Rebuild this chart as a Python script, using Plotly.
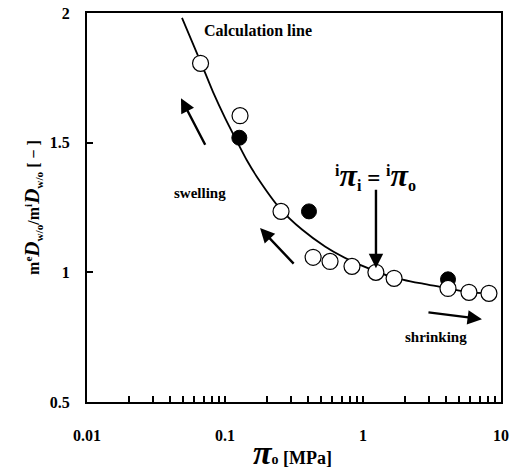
import plotly.graph_objects as go

# Calculation line
calc_x = [0.0488, 0.0670, 0.0818, 0.100, 0.1202, 0.1443, 0.1734, 0.2504, 0.3614,
          0.5304, 0.8051, 1.242, 1.649, 2.588, 4.130, 5.963, 8.322]
calc_y = [1.981, 1.808, 1.696, 1.596, 1.512, 1.431, 1.362, 1.246, 1.165,
          1.100, 1.046, 1.004, 0.981, 0.958, 0.938, 0.923, 0.919]

# Open circles
open_x = [0.0665, 0.1285, 0.2547, 0.435, 0.577, 0.832, 1.24, 1.68, 4.13, 5.86, 8.18]
open_y = [1.806, 1.604, 1.235, 1.058, 1.042, 1.023, 1.000, 0.977, 0.938, 0.923, 0.919]

# Filled circles
filled_x = [0.127, 0.406, 4.13]
filled_y = [1.519, 1.235, 0.973]

x_tickvals = [0.01, 0.1, 1, 10]
x_ticktext = ["0.01", "0.1", "1", "10"]
x_minor_tickvals = [m * d for d in (0.01, 0.1, 1) for m in range(2, 10)]
y_tickvals = [0.5, 1, 1.5, 2]
y_ticktext = ["0.5", "1", "1.5", "2"]

FONT = "Liberation Serif"

fig = go.Figure()
fig.add_trace(go.Scatter(x=calc_x, y=calc_y, mode="lines",
                         line=dict(color="black", width=1.8, shape="spline", smoothing=0.6),
                         hoverinfo="skip", showlegend=False))
fig.add_trace(go.Scatter(x=filled_x, y=filled_y, mode="markers",
                         marker=dict(symbol="circle", size=15, color="black",
                                     line=dict(color="black", width=1)),
                         showlegend=False))
fig.add_trace(go.Scatter(x=open_x, y=open_y, mode="markers",
                         marker=dict(symbol="circle", size=16, color="white",
                                     line=dict(color="black", width=1.2)),
                         showlegend=False))

tickfont = dict(family=FONT, size=16, color="black", weight="bold")

fig.update_xaxes(type="log", range=[-2, 1], tickvals=x_tickvals, ticktext=x_ticktext,
                 ticks="inside", ticklen=6, tickwidth=1.5, tickcolor="black",
                 minor=dict(ticks="inside", ticklen=6, tickwidth=1.5, tickcolor="black",
                            tickvals=x_minor_tickvals, showgrid=False),
                 showline=True, linecolor="black", linewidth=2, mirror=True,
                 showgrid=False, zeroline=False, tickfont=tickfont, ticklabelstandoff=18,
                 automargin=False)
fig.update_yaxes(range=[0.5, 2], tickvals=y_tickvals, ticktext=y_ticktext,
                 ticks="inside", ticklen=6, tickwidth=1.5, tickcolor="black",
                 showline=True, linecolor="black", linewidth=2, mirror=True,
                 showgrid=False, zeroline=False, tickfont=tickfont, ticklabelstandoff=12,
                 automargin=False,
                 title=dict(text="<b>m<sup>e</sup><span style='font-size:21px'><i>D</i></span><sub>w/o</sub>/m<sup>i</sup><span style='font-size:21px'><i>D</i></span><sub>w/o</sub> [ − ]</b>",
                            font=dict(family=FONT, size=16, color="black", weight="bold"),
                            standoff=6))

def text_ann(x, y, text, size):
    return dict(x=x, y=y, xref="paper", yref="paper", text="<b>" + text + "</b>", showarrow=False,
                font=dict(family=FONT, size=size, color="black", weight="bold"),
                xanchor="center", yanchor="middle")

def arrow_ann(x, y, ax, ay):
    return dict(x=x, y=y, xref="paper", yref="paper", ax=ax, ay=ay, text="",
                showarrow=True, arrowhead=2, arrowsize=1.2, arrowwidth=2.4,
                arrowcolor="black", standoff=0, startstandoff=0)

annotations = [
    text_ann(0.413, 0.956, "Calculation line", 16),
    text_ann(0.273, 0.537, "swelling", 15),
    text_ann(0.843, 0.167, "shrinking", 15),
    text_ann(0.696, 0.581,
             "<sup>i</sup><span style='font-size:32px'><i>π</i></span><sub>i</sub>"
             " = <sup>i</sup><span style='font-size:32px'><i>π</i></span><sub>o</sub>", 23),
    # x-axis title
    text_ann(0.497, -0.130,
             "<span style='font-size:34px'><i>π</i></span><span style='font-size:14px'>o</span> [MPa]", 18),
    arrow_ann(0.227, 0.781, 25, 48),
    arrow_ann(0.418, 0.447, 35, 37),
    arrow_ann(0.954, 0.213, -55, -7),
    arrow_ann(0.698, 0.344, 0, -80),
]

fig.update_layout(width=516, height=470,
                  margin=dict(l=87, r=15, t=13, b=68, autoexpand=False),
                  paper_bgcolor="white", plot_bgcolor="white",
                  font=dict(family=FONT, color="black"),
                  annotations=annotations, showlegend=False)

fig.write_html("out.html", config={"displayModeBar": False},
               post_script="document.body.style.margin='0';document.body.style.overflow='hidden';")
